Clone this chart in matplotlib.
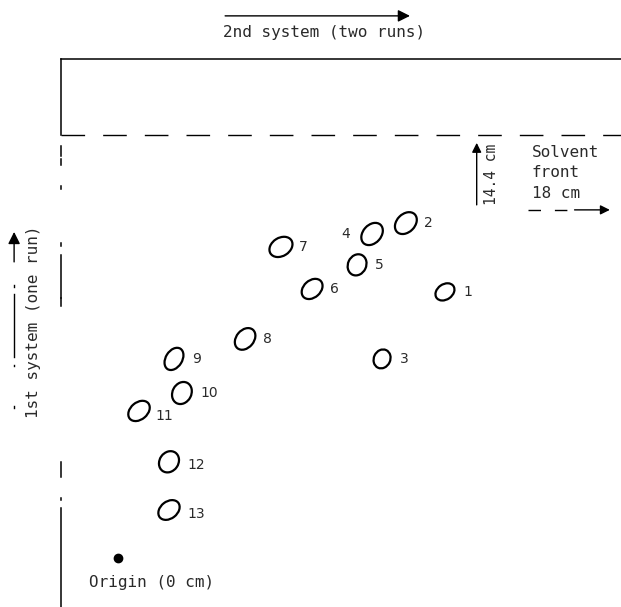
import matplotlib.pyplot as plt
from matplotlib.patches import Ellipse

# two-dimensional TLC plate, spot positions in cm from the origin
spot_ids = ['1', '2', '3', '4', '5', '6', '7', '8', '9', '10', '11', '12', '13']
dist_2nd = [11.14, 9.81, 9.00, 8.66, 8.15, 6.62, 5.56, 4.34, 1.92, 2.19, 0.73, 1.75, 1.75]
dist_1st = [9.05, 11.39, 6.77, 11.02, 9.97, 9.15, 10.58, 7.45, 6.77, 5.61, 5.00, 3.27, 1.63]

front_1st = 14.4   # cm, first system (one run)
front_2nd = 18     # cm, second system (two runs)

# spot outline shapes (major, minor in cm; tilt in degrees)
spot_shape = [(0.70, 0.52, 35), (0.85, 0.62, 45), (0.66, 0.56, 65), (0.85, 0.62, 48),
              (0.74, 0.62, 65), (0.80, 0.58, 42), (0.84, 0.62, 32), (0.82, 0.60, 50),
              (0.82, 0.56, 58), (0.78, 0.64, 62), (0.82, 0.58, 40), (0.76, 0.64, 55),
              (0.80, 0.58, 38)]
# label offsets in points
label_off = {'4': (-16, 0), '11': (12, -4), '13': (13, -3), '12': (13, -2)}

mono = 'DejaVu Sans Mono'
ink = '#2a2a2a'

fig = plt.figure(figsize=(6.21, 6.07), dpi=100)
ax = fig.add_axes([0, 0, 1, 1])
ax.set_xlim(-4.0, 17.13)
ax.set_ylim(-1.67, 18.98)
ax.axis('off')

lw = 1.1
# plate edges
ax.plot([-1.92, 17.13], [16.97, 16.97], color='black', lw=lw)
left_segments = [(16.97, 14.4), (14.0, 13.66), (13.56, 13.38), (12.65, 12.55),
                 (10.71, 10.61), (10.30, 8.84), (8.84, 8.57), (3.27, 2.75),
                 (2.04, 1.97), (1.70, -1.67)]
for y0, y1 in left_segments:
    ax.plot([-1.92, -1.92], [y0, y1], color='black', lw=lw)

# solvent front of the first system
ax.plot([-1.92, 17.13], [front_1st, front_1st], color='black', lw=1.0,
        dashes=(17, 13))

# spots
for i, sid in enumerate(spot_ids):
    w, h, ang = spot_shape[i]
    ax.add_patch(Ellipse((dist_2nd[i], dist_1st[i]), w, h, angle=ang,
                         fill=False, ec='black', lw=1.6))
    dx, dy = label_off.get(sid, (13, 0))
    ax.annotate(sid, (dist_2nd[i], dist_1st[i]), xytext=(dx, dy),
                textcoords='offset points', ha='left' if dx > 0 else 'right',
                va='center', fontsize=10, color=ink)

# origin
ax.plot(0, 0, 'o', color='black', ms=6)
ax.text(1.16, -0.85, 'Origin (0 cm)', ha='center', va='center', fontsize=11.5,
        family=mono, color=ink)

# direction of the second system
ax.annotate('', xy=(9.95, 18.44), xytext=(3.66, 18.44),
            arrowprops=dict(arrowstyle='-|>', color='black', lw=1.0,
                            mutation_scale=18, shrinkA=0, shrinkB=0))
ax.text(7.02, 17.86, '2nd system (two runs)', ha='center', va='center',
        fontsize=11.5, family=mono, color=ink)

# direction of the first system
ax.annotate('', xy=(-3.52, 11.09), xytext=(-3.52, 10.07),
            arrowprops=dict(arrowstyle='-|>', color='black', lw=1.0,
                            mutation_scale=18, shrinkA=0, shrinkB=0))
for y0, y1 in [(9.29, 9.22), (8.98, 6.84), (6.57, 6.53), (5.17, 5.10)]:
    ax.plot([-3.52, -3.52], [y0, y1], color='black', lw=1.0)
ax.text(-2.87, 8.03, '1st system (one run)', rotation=90, ha='center',
        va='center', fontsize=11.5, family=mono, color=ink)

# solvent front distances
ax.annotate('', xy=(12.22, 14.12), xytext=(12.22, 12.01),
            arrowprops=dict(arrowstyle='-|>', color='black', lw=1.0,
                            mutation_scale=14, shrinkA=0, shrinkB=0))
ax.text(12.74, 13.06, f'{front_1st} cm', rotation=90, ha='center', va='center',
        fontsize=10.5, family=mono, color=ink)
ax.text(14.1, 13.1, f'Solvent\nfront\n{front_2nd} cm', ha='left', va='center',
        fontsize=11.5, family=mono, color=ink, linespacing=1.45)
ax.plot([13.96, 15.55], [11.84, 11.84], color='black', lw=1.0, dashes=(9, 10))
ax.annotate('', xy=(16.75, 11.84), xytext=(15.55, 11.84),
            arrowprops=dict(arrowstyle='-|>', color='black', lw=1.0,
                            mutation_scale=14, shrinkA=0, shrinkB=0))

fig.savefig('out.png', dpi=100, facecolor='white')
